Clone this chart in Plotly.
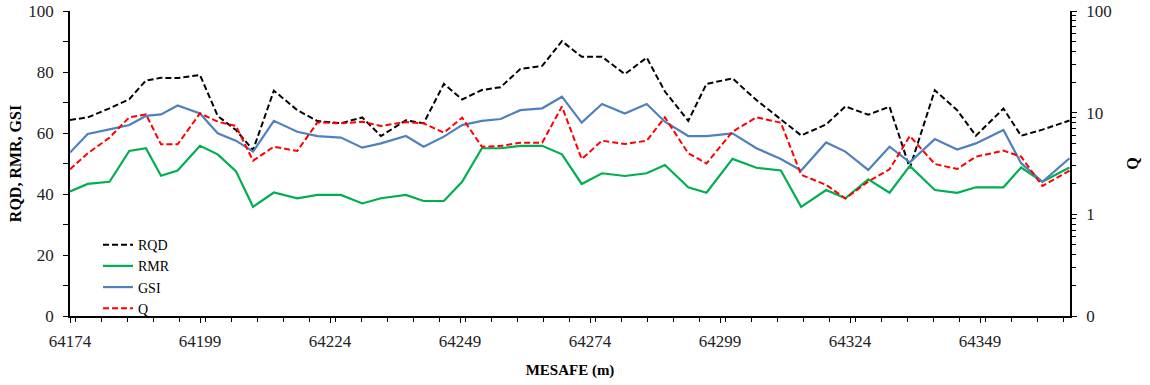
import plotly.graph_objects as go

# Distance along the line (m)
distance = [64174.0, 64177.4, 64181.6, 64185.4, 64188.6, 64191.5, 64194.7, 64199.0, 64202.4, 64205.9,
            64209.2, 64213.2, 64217.7, 64221.6, 64226.1, 64230.2, 64233.8, 64238.6, 64242.0, 64245.9,
            64249.4, 64253.2, 64256.8, 64260.6, 64264.8, 64268.6, 64272.4, 64276.3, 64280.7, 64284.9,
            64288.4, 64292.9, 64296.4, 64301.4, 64306.0, 64310.7, 64314.6, 64319.4, 64323.1, 64327.5,
            64331.6, 64335.5, 64340.3, 64344.6, 64348.2, 64353.5, 64356.9, 64361.0, 64366.2]

rqd = [64.3, 65.1, 68.1, 71.1, 77.2, 78.1, 78.0, 79.0, 65.6, 61.0,
       54.4, 73.9, 67.5, 63.9, 63.2, 65.1, 59.0, 64.2, 63.2, 76.1,
       71.0, 74.1, 75.0, 81.0, 82.0, 90.1, 85.0, 85.0, 79.3, 84.7,
       73.6, 64.0, 76.1, 77.9, 70.8, 64.3, 59.2, 62.8, 68.7, 66.0,
       68.6, 48.5, 74.0, 67.5, 59.1, 68.0, 59.1, 61.1, 64.1]

rmr = [40.8, 43.3, 44.0, 54.1, 55.0, 46.0, 47.7, 55.8, 53.0, 47.5,
       35.8, 40.5, 38.6, 39.7, 39.7, 36.9, 38.6, 39.7, 37.7, 37.7,
       44.0, 55.0, 55.0, 55.8, 55.8, 53.0, 43.3, 46.8, 45.9, 46.8,
       49.5, 42.2, 40.4, 51.5, 48.6, 47.7, 35.8, 41.3, 38.6, 44.8,
       40.4, 49.2, 41.3, 40.4, 42.2, 42.2, 48.7, 44.0, 48.7]

gsi = [53.6, 59.7, 61.2, 62.6, 65.6, 66.1, 69.0, 66.4, 59.9, 57.5,
       53.9, 64.0, 60.4, 59.0, 58.5, 55.2, 56.6, 59.0, 55.5, 58.8,
       62.6, 64.0, 64.6, 67.5, 68.1, 71.9, 63.4, 69.5, 66.4, 69.5,
       63.7, 59.0, 59.0, 59.9, 55.0, 51.5, 47.7, 56.9, 53.9, 47.9,
       55.5, 50.4, 58.0, 54.6, 56.6, 61.0, 50.1, 44.0, 51.7]

q = [2.77, 3.98, 5.68, 9.0, 9.63, 4.88, 4.88, 9.85, 8.15, 7.4,
     3.37, 4.63, 4.2, 8.03, 7.85, 8.15, 7.39, 8.1, 7.85, 6.36,
     8.93, 4.63, 4.70, 5.07, 5.07, 11.5, 3.50, 5.30, 4.92, 5.30,
     9.0, 3.98, 3.17, 6.5, 9.0, 7.97, 2.45, 1.95, 1.43, 2.1,
     2.77, 5.9, 3.13, 2.79, 3.69, 4.23, 3.69, 1.90, 2.69]

q_tickvals = [0.1, 1, 10, 100]
q_ticktext = ["0", "1", "10", "100"]
q_minorvals = [k * 10 ** e for e in (-1, 0, 1) for k in range(2, 10)]

FONT = "Liberation Serif, Times New Roman, serif"

fig = go.Figure()
fig.add_trace(go.Scatter(x=distance, y=rqd, name="RQD", mode="lines",
                         line=dict(color="#000000", width=2, dash="6px,3px")))
fig.add_trace(go.Scatter(x=distance, y=rmr, name="RMR", mode="lines",
                         line=dict(color="#00B050", width=2.2)))
fig.add_trace(go.Scatter(x=distance, y=gsi, name="GSI", mode="lines",
                         line=dict(color="#4F81BD", width=2.2)))
fig.add_trace(go.Scatter(x=distance, y=q, name="Q", mode="lines", yaxis="y2",
                         line=dict(color="#FF0000", width=2, dash="6px,3px")))

axis_common = dict(showline=True, linecolor="#000000", linewidth=1.6, showgrid=False,
                   zeroline=False, ticks="outside", ticklen=5, tickwidth=1.3,
                   tickcolor="#000000", tickfont=dict(family=FONT, size=17, color="#222222"))

fig.update_layout(
    width=1150, height=385,
    margin=dict(l=70, r=80, t=11, b=69, autoexpand=False),
    paper_bgcolor="white", plot_bgcolor="white",
    font=dict(family=FONT, color="#000000"),
    showlegend=True,
    legend=dict(x=0.028, y=0.285, xanchor="left", yanchor="top",
                bgcolor="rgba(0,0,0,0)", font=dict(family=FONT, size=14, color="#000000"),
                tracegroupgap=0),
    xaxis=dict(range=[64174, 64366.3], tick0=64174, dtick=25, tickformat="d",
               minor=dict(dtick=5, ticks="outside", ticklen=4, tickwidth=1.3,
                          tickcolor="#000000", showgrid=False),
               ticklabelstandoff=4, automargin=False,
               title=dict(text="<b>MESAFE (m)</b>", font=dict(family=FONT, size=15), standoff=14),
               **axis_common),
    yaxis=dict(range=[0, 100], dtick=20,
               minor=dict(dtick=10, ticks="outside", ticklen=5, tickwidth=1.3,
                          tickcolor="#000000", showgrid=False),
               ticklabelstandoff=6, automargin=True,
               title=dict(text="<b>RQD, RMR, GSI</b>", font=dict(family=FONT, size=16), standoff=3),
               **axis_common),
    yaxis2=dict(type="log", range=[-1, 2], overlaying="y", side="right",
                tickmode="array", tickvals=q_tickvals, ticktext=q_ticktext,
                minor=dict(tickmode="array", tickvals=q_minorvals, ticks="outside", ticklen=4,
                           tickwidth=1.3, tickcolor="#000000", showgrid=False),
                ticklabelstandoff=6, automargin=False,
                title=dict(text="<b>Q</b>", font=dict(family=FONT, size=16), standoff=16),
                **axis_common),
)

fig.write_html("out.html")
